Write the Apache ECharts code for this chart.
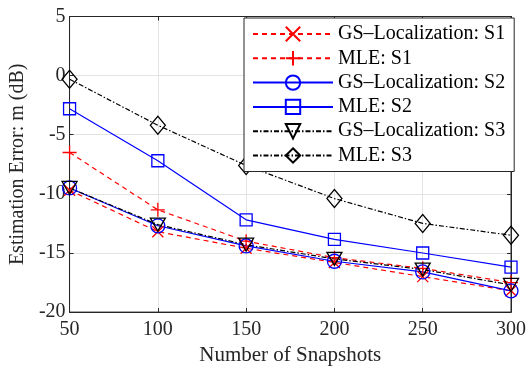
<!DOCTYPE html>
<html><head><meta charset="utf-8">
<script src="https://cdn.jsdelivr.net/npm/echarts@6/dist/echarts.min.js"></script>
<style>html,body{margin:0;padding:0;background:#fff}#c{width:529px;height:371px}</style>
</head><body><div id="c"></div>
<script>
var snapshots = [50, 100, 150, 200, 250, 300];
var gsS1  = [-9.7, -13.2, -14.6, -15.8, -17.0, -18.2];
var mleS1 = [-6.5, -11.35, -14.0, -15.4, -16.3, -17.5];
var gsS2  = [-9.5, -12.7, -14.4, -15.7, -16.6, -18.2];
var mleS2 = [-2.8, -7.2, -12.2, -13.85, -15.0, -16.2];
var gsS3  = [-9.5, -12.6, -14.3, -15.5, -16.4, -17.7];
var mleS3 = [-0.3, -4.2, -7.6, -10.4, -12.5, -13.5];
var names = ['GS\u2013Localization: S1','MLE: S1','GS\u2013Localization: S2','MLE: S2','GS\u2013Localization: S3','MLE: S3'];

function pairs(v){ return snapshots.map(function(x,i){ return [x, v[i]]; }); }
var FONT = '"Liberation Serif", "Times New Roman", serif';
var RED = '#ff0000', BLUE = '#0000ff', BLACK = '#000000';
var dashRed = [5,4];
var dashDot = [5,2,1.5,2];

function mk(name, data, color, ltype, symbol, size){
  return {
    name: name, type: 'line', data: pairs(data),
    symbol: symbol, symbolSize: size, showSymbol: true,
    lineStyle: {color: color, width: 1.2, type: ltype},
    itemStyle: {color: 'rgba(0,0,0,0)', borderColor: color, borderWidth: 1.3},
    emphasis: {disabled: true}, z: 3
  };
}
var X = 'path://M0,0 L10,10 M10,0 L0,10';
var PLUS = 'path://M5,0 L5,10 M0,5 L10,5';
var TRI = 'path://M0,0 L10,0 L5,9 Z';

var axisCommon = {
  axisLine: {show: true, onZero: false, lineStyle: {color: '#262626'}},
  axisTick: {show: true, inside: true, length: 4, lineStyle: {color: '#262626'}}
};

var chart = echarts.init(document.getElementById('c'), null, {renderer:'canvas'});
chart.setOption({
  animation: false,
  backgroundColor: '#fff',
  grid: {left: 69, right: 13, top: 16.5, bottom: 54, show: true, borderColor: '#262626', borderWidth: 1, backgroundColor: '#fff'},
  legend: {
    data: names, orient: 'vertical', left: 244, top: 18,
    padding: [6, 9, 6, 8], itemGap: 4.3, itemWidth: 80, itemHeight: 18,
    backgroundColor: '#fff', borderColor: '#262626', borderWidth: 1,
    textStyle: {fontFamily: FONT, fontSize: 20, lineHeight: 19, color: '#000'},
    selectedMode: false
  },
  xAxis: [Object.assign({
    type: 'value', min: 50, max: 300, interval: 50,
    name: 'Number of Snapshots', nameLocation: 'middle', nameGap: 32,
    nameTextStyle: {fontFamily: FONT, fontSize: 21, color: '#262626'},
    axisLabel: {fontFamily: FONT, fontSize: 20, color: '#262626', margin: 8},
    splitLine: {show: true, lineStyle: {color: '#e3e3e3', width: 1}}
  }, axisCommon),
  Object.assign({
    type: 'value', position: 'top', min: 50, max: 300, interval: 50,
    axisLabel: {show: false}, splitLine: {show: false}
  }, axisCommon)],
  yAxis: [Object.assign({
    type: 'value', min: -20, max: 5, interval: 5,
    name: 'Estimation Error: m (dB)', nameLocation: 'middle', nameGap: 33,
    nameTextStyle: {fontFamily: FONT, fontSize: 20, color: '#262626'},
    axisLabel: {fontFamily: FONT, fontSize: 20, color: '#262626', margin: 4},
    splitLine: {show: true, lineStyle: {color: '#e3e3e3', width: 1}}
  }, axisCommon),
  Object.assign({
    type: 'value', position: 'right', min: -20, max: 5, interval: 5,
    axisLabel: {show: false}, splitLine: {show: false}
  }, axisCommon)],
  series: [
    mk(names[0], gsS1, RED, dashRed, X, 11),
    mk(names[1], mleS1, RED, dashRed, PLUS, 14),
    mk(names[2], gsS2, BLUE, 'solid', 'circle', 14),
    mk(names[3], mleS2, BLUE, 'solid', 'rect', 12),
    mk(names[4], gsS3, BLACK, dashDot, TRI, [15,13]),
    mk(names[5], mleS3, BLACK, dashDot, 'diamond', [15,18])
  ]
});
</script></body></html>
